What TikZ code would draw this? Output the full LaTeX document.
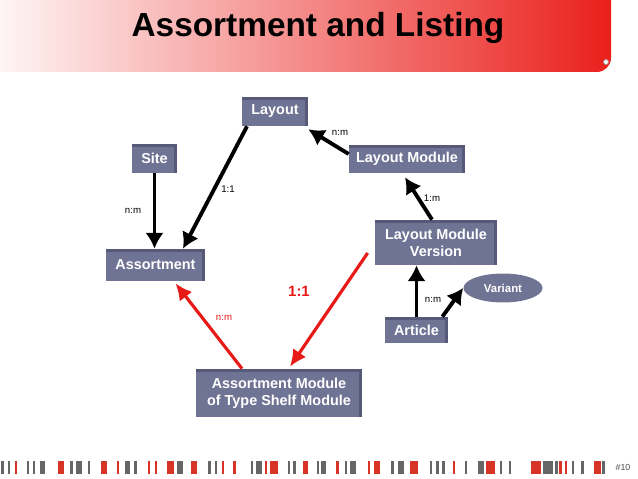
\documentclass[tikz,border=0pt]{standalone}
\usepackage{fontspec}
\setmainfont{Liberation Sans}
\usetikzlibrary{shapes,arrows,arrows.meta,positioning,calc}
\definecolor{boxface}{RGB}{111,115,148}
\definecolor{boxedge}{RGB}{86,90,120}
\definecolor{bandred}{RGB}{234,32,28}
\definecolor{bandmid}{RGB}{244,165,140}
\definecolor{relred}{RGB}{232,26,24}
\definecolor{barg}{RGB}{102,102,102}
\definecolor{barr}{RGB}{216,52,38}

\begin{document}
\begin{tikzpicture}[x=0.02cm, y=-0.02cm, >={Latex[length=9pt, width=10.5pt]}]
\tikzset{
entity/.style   = {fill=boxface, text=white, font=\fontsize{8.2}{9.6}\selectfont\bfseries, align=center, inner sep=0pt, minimum height=0.58cm,
                   path picture={\fill[boxedge] (path picture bounding box.north west) rectangle ([yshift=-1.6pt]path picture bounding box.north east);
                                 \fill[boxedge] ([xshift=-1.6pt]path picture bounding box.north east) rectangle (path picture bounding box.south east);}},
rel/.style      = {->, line width=2.2pt},
redrel/.style   = {-{Latex[length=9.5pt, width=9pt]}, line width=1.8pt, draw=relred, color=relred},
card/.style     = {font=\fontsize{5.5}{6}\selectfont, inner sep=0pt},
}
    \useasboundingbox (0,0) rectangle (638,479);

    % Title band
    \shade[left color=white, middle color=bandmid, right color=bandred, rounded corners=8pt] (-30,-30) rectangle (611,72);
    \node [circle, fill=white, draw=black!40, inner sep=0pt, minimum size=0.1cm] (dot) at (606,62) {};
    \node [anchor=base, font=\fontsize{19}{22}\selectfont\bfseries] (title) at (318,37) {Assortment and Listing};

    % Main nodes
    \node [entity, minimum width=1.32cm]                         (layout)  at (275,111.5) {Layout};
    \node [entity, minimum width=0.9cm]                          (site)    at (154.5,158.5) {Site};
    \node [entity, minimum width=1.98cm, minimum height=0.64cm]  (assort)  at (155.5,265) {Assortment};
    \node [entity, minimum width=2.32cm, minimum height=0.56cm]  (laymod)  at (407,159) {Layout Module};
    \node [entity, minimum width=2.44cm, minimum height=0.9cm]   (lmv)     at (436,242.5) {Layout Module\\Version};
    \node [ellipse, fill=boxface, text=white, font=\fontsize{6.5}{7}\selectfont\bfseries, inner sep=0pt,
           minimum width=1.58cm, minimum height=0.58cm]          (variant) at (503,288) {Variant};
    \node [entity, minimum width=1.26cm, minimum height=0.52cm]  (article) at (416.5,330) {Article};
    \node [entity, minimum width=3.32cm, minimum height=0.96cm]  (shelf)   at (279,393) {Assortment Module\\of Type Shelf Module};

    % Main edges
    \draw [rel]     (site.south)    --  (site.south |- assort.north);
    \draw [rel]     ([xshift=-0.56cm]layout.south)  --  ([xshift=0.55cm]assort.north);
    \draw [rel]     ([yshift=0.1cm]laymod.west)  --  ([yshift=-0.06cm]layout.south east);
    \draw [rel]     ([xshift=-0.08cm]lmv.north)  --  ([xshift=-0.04cm, yshift=-0.08cm]laymod.south);
    \draw [rel]     (article.north) --  (article.north |- lmv.south);
    \draw [rel]     ([xshift=-0.12cm]article.north east)  --  (variant.west);
    \draw [redrel]  ([xshift=-0.74cm]shelf.north)  --  ([xshift=0.4cm, yshift=-0.04cm]assort.south);
    \draw [redrel]  ([xshift=-0.14cm, yshift=-0.21cm]lmv.west)  --  ([xshift=0.22cm, yshift=0.04cm]shelf.north);

    % Cardinalities
    \node [card]                (c-site)    at (133,211) {n:m};
    \node [card]                (c-layout)  at (228,189) {1:1};
    \node [card]                (c-laymod)  at (340,133) {n:m};
    \node [card]                (c-lmv)     at (432,198) {1:m};
    \node [card]                (c-article) at (433,300) {n:m};
    \node [card, text=relred]   (c-shelf)   at (224,318) {n:m};
    \node [card, text=relred, font=\fontsize{8.5}{9}\selectfont\bfseries] (c-red) at (299,291) {1:1};

    % Footer bars
    \foreach \bx/\bw/\bc in {1/3/barg, 8/2/barg, 15/2/barr, 27/2/barg, 33/2/barg, 40/5/barg, 58/6/barr, 70/3/barg,
        76/6/barg, 88/2/barg, 101/6/barr, 117/2/barr, 125/5/barg, 134/3/barg, 148/2/barr, 155/2/barr, 167/7/barr,
        177/6/barg, 191/6/barr, 208/3/barg, 215/2/barg, 222/2/barr, 233/3/barr, 251/2/barg, 256/6/barg, 265/2/barr,
        270/8/barr, 288/2/barg, 293/3/barg, 303/5/barr, 317/2/barg, 321/5/barg, 336/3/barr, 345/2/barg, 350/6/barg,
        368/2/barr, 374/6/barr, 391/3/barg, 398/6/barg, 410/8/barr, 430/2/barg, 436/3/barg, 442/3/barg, 453/2/barr,
        465/2/barg, 478/6/barg, 486/3/barr, 489/6/barr, 500/2/barg, 509/2/barg, 531/10/barr, 543/10/barg, 555/3/barg,
        559/3/barr, 565/2/barr, 572/2/barg, 581/3/barg, 594/7/barr, 602/3/barg}
        \fill [\bc] (\bx,461) rectangle ++(\bw,13);
    \node [font=\fontsize{5}{6}\selectfont, text=black!70] (pagenum) at (623,467) {\#10};

\end{tikzpicture}
\end{document}
